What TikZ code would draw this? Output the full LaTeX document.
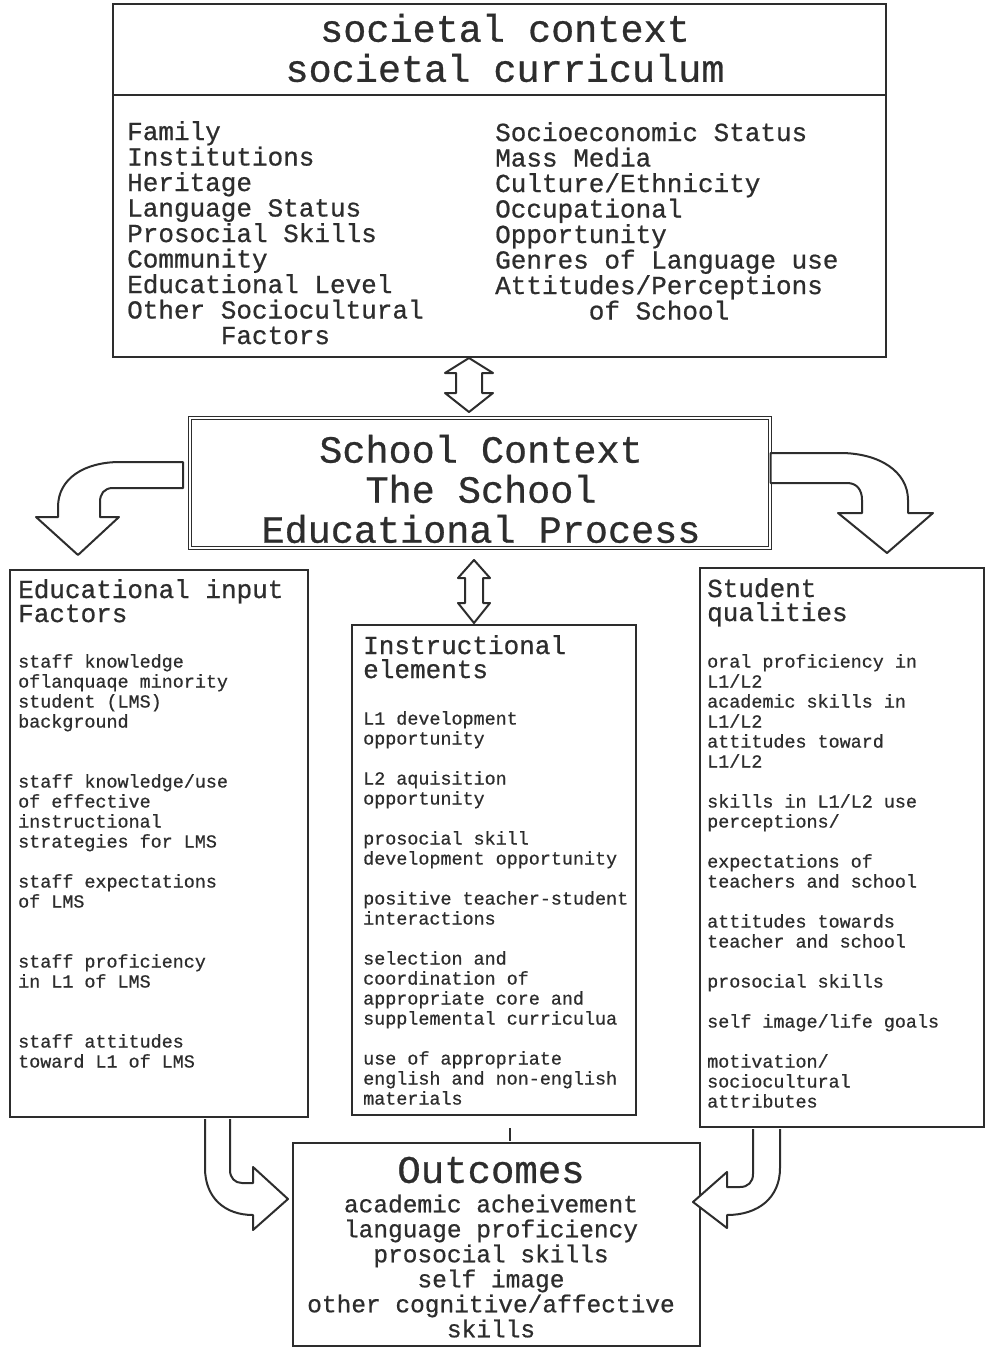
\documentclass[tikz,border=0pt]{standalone}
\usepackage{fontspec}
\usepackage{tikz}
\usetikzlibrary{positioning}
\newfontfamily\typew{Liberation Mono}[FakeBold=0.7]
\definecolor{inkgray}{RGB}{45, 45, 45}

\begin{document}
\begin{tikzpicture}[
    x=1pt, y=-1pt,
    box/.style={rectangle, draw=inkgray, line width=2pt, inner sep=0pt},
    fatarrow/.style={draw=inkgray, line width=2pt, fill=white, line join=round},
    bigtext/.style={font=\typew\fontsize{38.5}{40}\selectfont, align=center, inner sep=0pt, text=inkgray},
    listtext/.style={font=\typew\fontsize{26}{25.5}\selectfont, align=left, anchor=north west, inner sep=0pt, text=inkgray},
    headtext/.style={font=\typew\fontsize{26}{24}\selectfont, align=left, anchor=north west, inner sep=0pt, text=inkgray},
    itemtext/.style={font=\typew\fontsize{18.4}{20}\selectfont, align=left, anchor=north west, inner sep=0pt, text=inkgray}
]
    \useasboundingbox (0,0) rectangle (986,1348);

    % Societal context
    \node[box, minimum width=773, minimum height=353] (society) at (499.5,180.5) {};
    \draw[inkgray, line width=2pt] ([yshift=-92pt]society.north west) -- ([yshift=-92pt]society.north east);
    \node[bigtext] (soc_title) at (505,48) {societal context\\societal curriculum};
    \node[listtext] (soc_left) at (127,121) {Family\\Institutions\\Heritage\\Language Status\\Prosocial Skills\\Community\\Educational Level\\Other Sociocultural\\\hspace*{93.6pt}Factors};
    \node[listtext] (soc_right) at (495,122) {Socioeconomic Status\\Mass Media\\Culture/Ethnicity\\Occupational\\Opportunity\\Genres of Language use\\Attitudes/Perceptions\\\hspace*{93.6pt}of School};

    % School context
    \node[box, double, double distance=1.6pt, line width=1.2pt, minimum width=580, minimum height=130] (school) at (480,483) {};
    \node[bigtext] (school_title) at (481,489) {School Context\\The School\\Educational Process};

    % Lower boxes
    \node[box, minimum width=298, minimum height=547] (inputs) at (159,843.5) {};
    \node[box, minimum width=284, minimum height=490] (instruct) at (494,870) {};
    \node[box, minimum width=284, minimum height=559] (qualities) at (842,847.5) {};
    \node[box, minimum width=407, minimum height=203] (outcomes) at (496.5,1244.5) {};

    \node[headtext] (inputs_head) at (18,579) {Educational input\\Factors};
    \node[itemtext] (inputs_list) at (18,654) {staff knowledge\\oflanquaqe minority\\student (LMS)\\background\\[40pt]staff knowledge/use\\of effective\\instructional\\strategies for LMS\\[20pt]staff expectations\\of LMS\\[40pt]staff proficiency\\in L1 of LMS\\[40pt]staff attitudes\\toward L1 of LMS};

    \node[headtext] (instruct_head) at (363,635) {Instructional\\elements};
    \node[itemtext] (instruct_list) at (363,711) {L1 development\\opportunity\\[20pt]L2 aquisition\\opportunity\\[20pt]prosocial skill\\development opportunity\\[20pt]positive teacher-student\\interactions\\[20pt]selection and\\coordination of\\appropriate core and\\supplemental curriculua\\[20pt]use of appropriate\\english and non-english\\materials};

    \node[headtext] (qualities_head) at (707,578) {Student\\qualities};
    \node[itemtext] (qualities_list) at (707,654) {oral proficiency in\\L1/L2\\academic skills in\\L1/L2\\attitudes toward\\L1/L2\\[20pt]skills in L1/L2 use\\perceptions/\\[20pt]expectations of\\teachers and school\\[20pt]attitudes towards\\teacher and school\\[20pt]prosocial skills\\[20pt]self image/life goals\\[20pt]motivation/\\sociocultural\\attributes};

    \node[bigtext, font=\typew\fontsize{39}{40}\selectfont] (out_title) at (491,1170) {Outcomes};
    \node[bigtext, font=\typew\fontsize{24.5}{25}\selectfont] (out_list) at (491,1266) {academic acheivement\\language proficiency\\prosocial skills\\self image\\other cognitive/affective\\skills};

    % Double arrows
    \coordinate (updown1) at (469,358);
    \draw[fatarrow] (updown1) -- ++(24,15) -- ++(-11,0) -- ++(0,20) -- ++(11,0) -- ++(-24,19) -- ++(-24,-19) -- ++(11,0) -- ++(0,-20) -- ++(-11,0) -- cycle;
    \coordinate (updown2) at (474,560);
    \draw[fatarrow] (updown2) -- ++(16,18) -- ++(-7,0) -- ++(0,25) -- ++(7,0) -- ++(-16,20) -- ++(-16,-20) -- ++(7,0) -- ++(0,-25) -- ++(-7,0) -- cycle;

    % Curved arrows
    \draw[fatarrow] (183,462) -- (120,462) .. controls (85,462) and (58,478) .. (58,507) -- (58,517) -- (36,517) -- (78,555) -- (119,517) -- (100,517) -- (100,502) .. controls (100,494) and (104,488) .. (113,488) -- (183,488) -- cycle;
    \draw[fatarrow] (school.east |- 0,453) -- (840,453) .. controls (880,453) and (908,472) .. (908,500) -- (908,513) -- (933,513) -- (887,553) -- (838,513) -- (862,513) -- (862,500) .. controls (862,490) and (857,483) .. (847,483) -- (school.east |- 0,483) -- cycle;
    \draw[fatarrow] (205,1119) -- (205,1168) .. controls (205,1198) and (225,1215) .. (253,1215) -- (253,1230) -- (288,1199) -- (253,1167) -- (253,1183) -- (242,1183) .. controls (235,1183) and (230,1178) .. (230,1170) -- (230,1119);
    \draw[fatarrow] (780,1129) -- (780,1168) .. controls (780,1198) and (758,1215) .. (727,1215) -- (727,1228) -- (693,1202) -- (727,1172) -- (727,1187) -- (740,1187) .. controls (748,1187) and (753,1182) .. (753,1174) -- (753,1129);

    % Small mark below the instructional box
    \draw[inkgray, line width=1.5pt] ([xshift=16pt,yshift=-12pt]instruct.south) -- ([xshift=16pt,yshift=-25pt]instruct.south);
\end{tikzpicture}
\end{document}
